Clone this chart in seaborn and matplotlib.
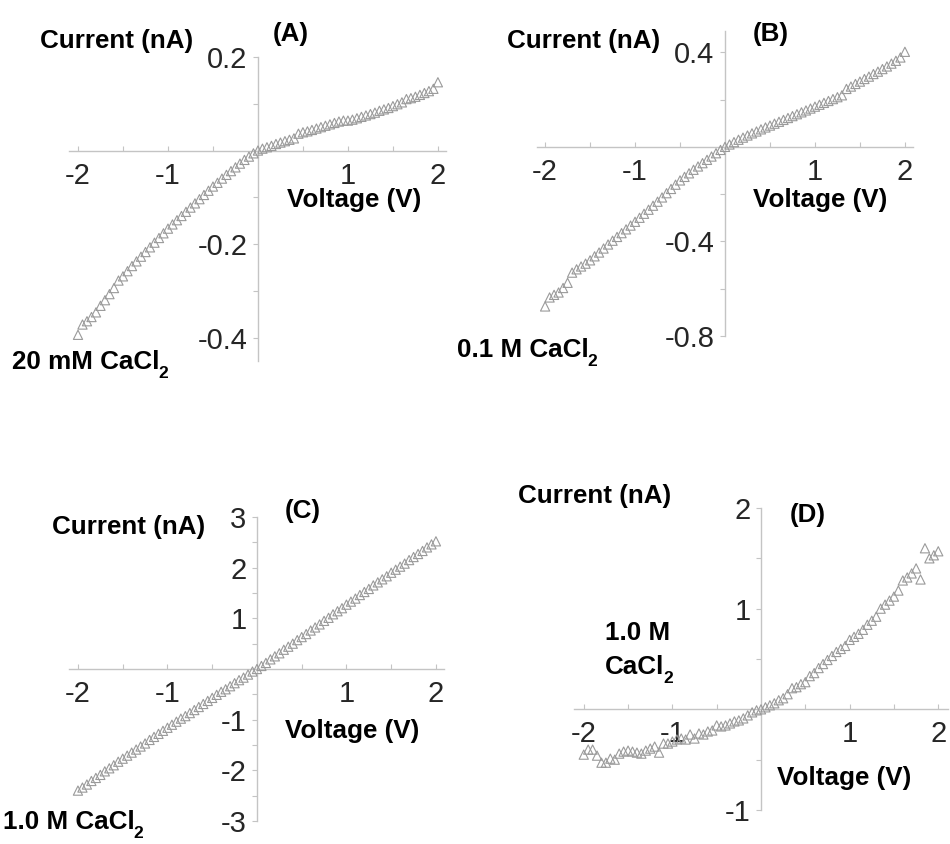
import matplotlib
matplotlib.use("Agg")
import matplotlib.pyplot as plt
import numpy as np
import pandas as pd
import seaborn as sns

# ---------------- data ----------------
voltage = [-2.00, -1.95, -1.90, -1.85, -1.80, -1.75, -1.70, -1.65, -1.60, -1.55,
           -1.50, -1.45, -1.40, -1.35, -1.30, -1.25, -1.20, -1.15, -1.10, -1.05,
           -1.00, -0.95, -0.90, -0.85, -0.80, -0.75, -0.70, -0.65, -0.60, -0.55,
           -0.50, -0.45, -0.40, -0.35, -0.30, -0.25, -0.20, -0.15, -0.10, -0.05,
           0.00,
           0.05, 0.10, 0.15, 0.20, 0.25, 0.30, 0.35, 0.40, 0.45, 0.50,
           0.55, 0.60, 0.65, 0.70, 0.75, 0.80, 0.85, 0.90, 0.95, 1.00,
           1.05, 1.10, 1.15, 1.20, 1.25, 1.30, 1.35, 1.40, 1.45, 1.50,
           1.55, 1.60, 1.65, 1.70, 1.75, 1.80, 1.85, 1.90, 1.95, 2.00]

current_a = [-0.394, -0.372, -0.365, -0.356, -0.346, -0.332, -0.320, -0.307, -0.294, -0.278,
             -0.269, -0.258, -0.247, -0.237, -0.227, -0.217, -0.207, -0.197, -0.187, -0.177,
             -0.167, -0.158, -0.149, -0.140, -0.131, -0.122, -0.113, -0.104, -0.095, -0.086,
             -0.077, -0.069, -0.060, -0.052, -0.044, -0.036, -0.028, -0.020, -0.013, -0.006,
             0.000,
             0.004, 0.007, 0.010, 0.014, 0.017, 0.020, 0.023, 0.026, 0.036, 0.039,
             0.041, 0.044, 0.047, 0.050, 0.053, 0.056, 0.059, 0.062, 0.064, 0.064,
             0.066, 0.069, 0.072, 0.075, 0.078, 0.081, 0.085, 0.088, 0.091, 0.095,
             0.099, 0.103, 0.110, 0.112, 0.115, 0.119, 0.123, 0.127, 0.132, 0.146]

current_b = [-0.675, -0.637, -0.626, -0.616, -0.597, -0.575, -0.532, -0.518, -0.506, -0.494,
             -0.480, -0.463, -0.447, -0.430, -0.413, -0.397, -0.381, -0.365, -0.349, -0.333,
             -0.317, -0.300, -0.283, -0.266, -0.249, -0.232, -0.214, -0.196, -0.178, -0.160,
             -0.142, -0.127, -0.112, -0.097, -0.083, -0.069, -0.055, -0.041, -0.027, -0.013,
             0.000,
             0.010, 0.020, 0.030, 0.039, 0.048, 0.057, 0.065, 0.074, 0.082, 0.090,
             0.098, 0.106, 0.114, 0.122, 0.130, 0.138, 0.146, 0.154, 0.162, 0.170,
             0.178, 0.186, 0.194, 0.202, 0.210, 0.218, 0.245, 0.255, 0.266, 0.276,
             0.287, 0.297, 0.308, 0.318, 0.329, 0.340, 0.352, 0.364, 0.378, 0.402]

current_c = [-2.40, -2.34, -2.28, -2.21, -2.15, -2.09, -2.02, -1.96, -1.90, -1.83,
             -1.77, -1.71, -1.65, -1.59, -1.53, -1.47, -1.40, -1.34, -1.28, -1.22,
             -1.16, -1.10, -1.04, -0.98, -0.93, -0.87, -0.81, -0.75, -0.69, -0.63,
             -0.57, -0.51, -0.45, -0.40, -0.34, -0.28, -0.22, -0.17, -0.11, -0.05,
             0.00,
             0.06, 0.12, 0.19, 0.25, 0.31, 0.38, 0.44, 0.50, 0.57, 0.63,
             0.69, 0.76, 0.82, 0.88, 0.95, 1.01, 1.08, 1.14, 1.20, 1.27,
             1.33, 1.39, 1.46, 1.52, 1.58, 1.65, 1.71, 1.77, 1.83, 1.90,
             1.96, 2.02, 2.08, 2.15, 2.21, 2.27, 2.33, 2.40, 2.46, 2.52]

current_d = [-0.45, -0.40, -0.40, -0.46, -0.53, -0.53, -0.49, -0.50, -0.44, -0.42,
             -0.41, -0.42, -0.43, -0.44, -0.41, -0.39, -0.37, -0.43, -0.34, -0.34,
             -0.32, -0.30, -0.29, -0.30, -0.25, -0.29, -0.24, -0.25, -0.22, -0.21,
             -0.16, -0.17, -0.16, -0.14, -0.12, -0.11, -0.09, -0.06, -0.03, -0.01,
             0.00,
             0.02, 0.04, 0.06, 0.09, 0.11, 0.15, 0.21, 0.22, 0.25, 0.27,
             0.33, 0.36, 0.41, 0.45, 0.49, 0.53, 0.57, 0.60, 0.63, 0.69,
             0.72, 0.75, 0.79, 0.84, 0.88, 0.92, 1.00, 1.04, 1.08, 1.12,
             1.18, 1.28, 1.31, 1.35, 1.40, 1.29, 1.60, 1.50, 1.53, 1.57]

panel_letters = ["(A)", "(B)", "(C)", "(D)"]
x_ticks = [-2, -1, 1, 2]
x_tick_labels = ["-2", "-1", "1", "2"]
y_ticks_a = [-0.4, -0.2, 0.2]
y_labels_a = ["-0.4", "-0.2", "0.2"]
y_ticks_b = [-0.8, -0.4, 0.4]
y_labels_b = ["-0.8", "-0.4", "0.4"]
y_ticks_c = [-3, -2, -1, 1, 2, 3]
y_labels_c = ["-3", "-2", "-1", "1", "2", "3"]
y_ticks_d = [-1, 1, 2]
y_labels_d = ["-1", "1", "2"]

# ---------------- style ----------------
sns.set_theme(style="white")
plt.rcParams["font.family"] = ["Liberation Sans", "DejaVu Sans"]
plt.rcParams["axes.unicode_minus"] = False

W, H = 950, 844
fig = plt.figure(figsize=(W / 100, H / 100), dpi=100)
fig.patch.set_facecolor("white")
renderer = fig.canvas.get_renderer()

AXCOL = "#c4c4c4"
MKCOL = "#9a9a9a"
LABEL_FS = 18.7
TICK_FS = 21


def px_axes(left, right, top, bottom):
    return fig.add_axes([left / W, 1 - bottom / H, (right - left) / W, (bottom - top) / H])


def draw_panel(ax, current, xlim, ylim, yt, ylab, yminor):
    df = pd.DataFrame({"Voltage": voltage, "Current": current})
    sns.scatterplot(data=df, x="Voltage", y="Current", ax=ax, marker="^",
                    s=44, legend=False, zorder=3)
    pts = ax.collections[-1]
    pts.set_facecolor("none")
    pts.set_edgecolor(MKCOL)
    pts.set_linewidth(0.8)
    pts.set_clip_on(False)
    ax.set_xlim(*xlim)
    ax.set_ylim(*ylim)
    ax.set_facecolor("none")
    for side in ["top", "right"]:
        ax.spines[side].set_visible(False)
    for side in ["left", "bottom"]:
        ax.spines[side].set_position(("data", 0))
        ax.spines[side].set_color(AXCOL)
        ax.spines[side].set_linewidth(1.0)
    ax.set_xticks(x_ticks, labels=x_tick_labels)
    ax.set_xticks([-1.5, -0.5, 0.5, 1.5], minor=True)
    ax.set_yticks(yt, labels=ylab)
    ax.set_yticks(yminor, minor=True)
    ax.tick_params(axis="x", which="both", direction="in", length=3.6, width=0.8,
                   color=AXCOL, labelsize=TICK_FS, pad=8, bottom=True)
    ax.tick_params(axis="y", which="both", direction="out", length=3.6, width=0.8,
                   color=AXCOL, labelsize=TICK_FS, pad=4, left=True)
    ax.set_xlabel("")
    ax.set_ylabel("")
    ax.grid(False)


def ftext(x, y, s, fs=LABEL_FS):
    return fig.text(x / W, 1 - y / H, s, ha="left", va="baseline", fontsize=fs,
                    fontweight="bold", color="black")


def chem(x, y, main, sub="2"):
    t = ftext(x, y, main)
    bb = t.get_window_extent(renderer)
    fig.text((bb.x1 - 1.5) / W, 1 - (y + 9) / H, sub, ha="left", va="baseline",
             fontsize=12.5, fontweight="bold", color="black")


# Panel A
axA = px_axes(69, 446, 57, 361)
draw_panel(axA, current_a, (-2.1, 2.09), (-0.45, 0.2), y_ticks_a, y_labels_a, [-0.3, -0.1, 0.1])
ftext(40, 48, "Current (nA)")
ftext(273, 41, panel_letters[0])
ftext(287, 207, "Voltage (V)")
chem(12, 369, "20 mM CaCl")

# Panel B
axB = px_axes(537, 913, 31, 336)
draw_panel(axB, current_b, (-2.09, 2.09), (-0.8, 0.49), y_ticks_b, y_labels_b, [-0.6, -0.2, 0.2])
ftext(507, 48, "Current (nA)")
ftext(753, 41, panel_letters[1])
ftext(753, 207, "Voltage (V)")
chem(457, 357, "0.1 M CaCl")

# Panel C
axC = px_axes(69, 444, 517, 821)
draw_panel(axC, current_c, (-2.1, 2.09), (-3, 3), y_ticks_c, y_labels_c,
           [-2.5, -1.5, -0.5, 0.5, 1.5, 2.5])
ftext(52, 534, "Current (nA)")
ftext(285, 518, panel_letters[2])
ftext(285, 738, "Voltage (V)")
chem(3, 829, "1.0 M CaCl")

# Panel D
axD = px_axes(574, 948, 508, 810)
draw_panel(axD, current_d, (-2.11, 2.11), (-1, 2), y_ticks_d, y_labels_d, [-0.5, 0.5, 1.5])
ftext(518, 503, "Current (nA)")
ftext(790, 522, panel_letters[3])
ftext(605, 640, "1.0 M")
chem(605, 674, "CaCl")
ftext(777, 785, "Voltage (V)")

fig.savefig("out.png", dpi=100, facecolor="white")
